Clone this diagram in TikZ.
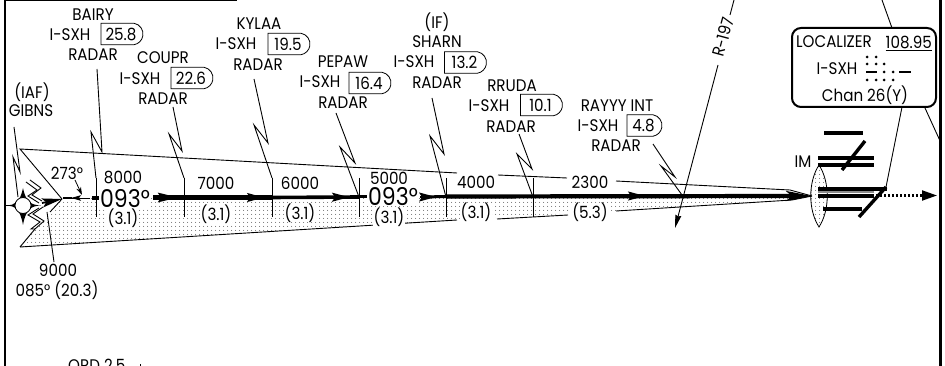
\documentclass[tikz,border=0pt]{standalone}
\usepackage{fontspec}
\setmainfont{Poppins}[FakeStretch=0.9]
\usetikzlibrary{arrows.meta,patterns.meta,shapes.misc}
\tikzset{
  txt/.style={inner sep=0pt,font=\fontsize{16.8}{18}\selectfont},
  halo/.style={txt,fill=white,inner xsep=1pt,inner ysep=0pt},
  big/.style={inner sep=0pt,font=\fontsize{24.5}{27}\selectfont},
  dmebox/.style={txt,draw,line width=.8pt,rounded rectangle,rounded rectangle left arc=none,minimum width=42pt,minimum height=21.5pt,inner sep=0pt,rounded rectangle arc length=160},
  thin line/.style={line width=.9pt},
  tickmark/.style={line width=.9pt},
  course/.style={line width=4.2pt},
  bar/.style={line width=3.4pt},
  shade/.style={pattern={Dots[radius=.55pt,distance=4pt]},pattern color=black!85}
}
\newcommand{\fixlabel}[9]{%
  \node[txt] (#1n) at (#2,#3) {#4};
  \node[txt] (#1i) at (#5,#6) {I-SXH};
  \node[dmebox] (#1b) at (#7,#8) {#9};
}
\begin{document}
\begin{tikzpicture}[x=1pt,y=-1pt]
\useasboundingbox (0,0) rectangle (945,366);
\fill[white] (0,0) rectangle (945,366);
% frame
\draw[line width=2pt] (5,366) -- (5,0) -- (237,0);
\draw[line width=2.6pt] (940.5,0) -- (940.5,366);
% shaded course wedge
\fill[shade] (62,198) -- (50,212) -- (44,221) -- (35,229) -- (20,247) -- (457,220) -- (616,211) -- (792,200) -- (810,197) -- (790,196) -- cycle;
% coordinates
\coordinate (apex) at (20,149);
\coordinate (low) at (20,247);
\coordinate (tip) at (62,199);
\coordinate (lensC) at (812,196);
\foreach \n/\x in {t1/96,t2/184,t3/272,t4/359,t5/446,t6/533}{
  \coordinate (\n a) at (\x,178);
  \coordinate (\n b) at (\x,217);
  \coordinate (\n m) at (\x,197);
}
% boundary lines
\coordinate (u1) at (457,173); \coordinate (u2) at (498,175); \coordinate (u3) at (567,178);
\coordinate (u4) at (616,181); \coordinate (u5) at (790,190);
\coordinate (l1) at (457,220); \coordinate (l2) at (497,219); \coordinate (l3) at (568,215);
\coordinate (l4) at (616,211); \coordinate (l5) at (792,200);
\draw[thin line] (tip) -- (apex) -- (u1) (u2) -- (u3) (u4) -- (u5) -- (lensC);
\draw[thin line] (lensC) -- (l5) -- (l4) (l3) -- (l2) (l1) -- (low);
\draw[thin line] (low) -- (35,229) -- (44,221) -- (33,214) -- (43,207);
\draw[thin line] (35,229) -- (31,229) -- (40,222) -- (28,215) -- (39,208);
\draw[thin line] (tip) -- (50,212);
\draw[thin line] (26,182) -- (37,190) -- (28,196) -- (39,203);
\draw[thin line] (30,180) -- (41,188) -- (32,195) -- (42,201);
% ticks
\foreach \n in {t1,t2,t3,t4,t5,t6}{\draw[tickmark] (\n a) -- (\n b);}
% course
\draw[line width=3.8pt] (92,198) -- (102,198);
\draw[course] (153,197.5) -- (272,197.5);
\draw[line width=3.6pt] (272,197.5) -- (359,197);
\draw[line width=3pt] (359,197) -- (368,197);
\draw[line width=3pt] (423,197) -- (446,196.5);
\draw[course] (446,196.5) -- (795,196);
\draw[-{Stealth[length=20pt,width=9.5pt,inset=3pt]},line width=2.4pt] (153,197.5) -- (178,197.5);
\draw[-{Stealth[length=17pt,width=9pt,inset=3pt]},line width=1.5pt] (240,197.5) -- (264,197.5);
\draw[-{Stealth[length=17pt,width=9pt,inset=3pt]},line width=1.5pt] (325,197.2) -- (349,197.2);
\draw[-{Stealth[length=17pt,width=9pt,inset=3pt]},line width=1.5pt] (420,197) -- (436,197);
\draw[-{Stealth[length=17pt,width=9pt,inset=3pt]},line width=1.5pt] (620,196) -- (645,196);
\draw[-{Stealth[length=26pt,width=10pt,inset=6pt]},line width=3.4pt] (780,196) -- (lensC);
% outbound + reverse arrows
\draw[-{Stealth[length=20pt,width=9pt,inset=4pt]},line width=1.8pt] (42,203) -- (tip);
\draw[thin line] (90,198) -- (63,198);
\draw[-{Stealth[length=10pt,width=5.5pt,inset=2pt]},line width=.9pt] (90,198) -- (71,198);
\draw[line width=2.4pt] (63,198) -- (72,198);
\node[txt] (radial) at (67,173) {273°};
\coordinate (ra) at (75,180); \coordinate (rb) at (82,195);
\draw[-{Stealth[length=8pt,width=5pt]},line width=.8pt] (ra) -- (rb);
% facility symbol
\coordinate (fix) at (23,205.5);
\draw[line width=.8pt] (5,205.5) -- (fix);
\fill (7,205.5) .. controls (14,205) and (20,203) .. (23,188) .. controls (26,203) and (32,205) .. (41,205.5)
  .. controls (32,206) and (26,208) .. (23,225) .. controls (20,208) and (14,206) .. cycle;
\node[circle,fill=white,draw,line width=.8pt,minimum size=16pt,inner sep=0pt] (fixc) at (fix) {};
% texts
\node[txt] (iaf) at (32,92) {(IAF)};
\node[txt] (gibns) at (31,111) {GIBNS};
\node[big,fill=white,inner xsep=1pt] (crsA) at (125,199) {093°};
\node[big,fill=white,inner xsep=1pt] (crsB) at (393,197) {093°};
\node[txt] (a1) at (123,178) {8000};
\node[txt] (a2) at (216,183) {7000};
\node[txt] (a3) at (300,183) {6000};
\node[txt] (a4) at (389,178) {5000};
\node[txt] (a5) at (476,182) {4000};
\node[txt] (a6) at (590,182) {2300};
\node[halo] (d1) at (123,218) {(3.1)};
\node[halo] (d2) at (216,214) {(3.1)};
\node[halo] (d3) at (300,213) {(3.1)};
\node[halo] (d4) at (389,217) {(3.1)};
\node[halo] (d5) at (476,212) {(3.1)};
\node[halo] (d6) at (590,212) {(5.3)};
\node[txt] (alt) at (58,270) {9000};
\node[txt] (hdg) at (57,290) {085° (20.3)};
\coordinate (pp) at (54,262); \coordinate (pq) at (47,212);
\draw[thin line] (pp) -- (pq);
% fix labels
\fixlabel{ba}{93}{15}{BAIRY}{70}{35}{121}{34}{25.8}
\node[txt] (bar) at (93,55) {RADAR};
\fixlabel{co}{163}{58}{COUPR}{140}{79}{191}{78}{22.6}
\node[txt] (cor) at (163,99) {RADAR};
\fixlabel{ky}{259}{24}{KYLAA}{236}{44}{288}{44}{19.5}
\node[txt] (kyr) at (258,65) {RADAR};
\fixlabel{pe}{343}{62}{PEPAW}{320}{82}{369}{83}{16.4}
\node[txt] (per) at (343,103) {RADAR};
\node[txt] (ifl) at (437,22) {(IF)};
\fixlabel{sh}{437}{42}{SHARN}{414}{62}{464.5}{62.5}{13.2}
\node[txt] (shr) at (437,83) {RADAR};
\fixlabel{rr}{512}{86}{RRUDA}{489}{106}{540.5}{105}{10.1}
\node[txt] (rrr) at (511,127) {RADAR};
\node[txt] (ran) at (617,106) {RAYYY INT};
\node[txt] (rai) at (598,126) {I-SXH};
\node[dmebox,minimum width=35pt] (rab) at (643.5,125.5) {4.8};
\node[txt] (rar) at (616,146) {RADAR};
% lightning pointers
\foreach \a/\b/\c/\d in {
  {97,69}/{102,152}/{91,132}/{t1a},
  {173,107}/{182,151}/{169,134}/{t2a},
  {254,79}/{268,143}/{254,125}/{t3a},
  {336,113}/{355,163}/{340,147}/{t4m},
  {432,98}/{444,154}/{430,136}/{t5m},
  {519,134}/{532,169}/{517,154}/{t6m}}{
  \draw[thin line] (\a) -- (\b) -- (\c) -- (\d);
}
\coordinate (raTip) at (682,195);
\draw[thin line] (653,144) -- (675,177) -- (661,166) -- (raTip);
\coordinate (giTip) at (18,197);
\draw[thin line] (14,127) -- (20,172) -- (13,157) -- (giTip);
% radial R-197
\coordinate (rtop) at (734,0); \coordinate (rbreak) at (730,15);
\coordinate (rlow) at (718,65); \coordinate (rtip) at (675,228);
\draw[thin line] (rtop) -- (rbreak);
\draw[-{Stealth[length=13pt,width=6pt,inset=1pt]},line width=.9pt] (rlow) -- (rtip);
\node[txt,rotate=75] (r197) at (723,37) {R-197};
% lens
\draw[shade,draw=black,line width=.8pt] (819,165) .. controls (808,182) and (808,210) .. (819,227) .. controls (830,210) and (830,182) .. (819,165) -- cycle;
\node[txt] (im) at (803,162) {IM};
% markers
\draw[bar] (824,133) -- (863,133);
\draw[bar] (865,141) -- (842,170);
\draw[bar] (818,158) -- (874,158);
\draw[bar] (818,165) -- (874,165);
\draw[bar] (818,189) -- (887,189);
\draw[line width=2pt,black!45] (818,192) -- (874,192);
\draw[bar] (818,196) -- (874,196);
\draw[bar] (823,209) -- (862,209);
\draw[bar] (886,187) -- (859,217);
\draw[line width=3.6pt,dash pattern=on 2.4pt off 1.6pt] (876,195.5) -- (922,195.5);
\draw[-{Stealth[length=15pt,width=10pt,inset=0pt]},line width=2pt] (920,195.5) -- (937,195.5);
% outside lines and localizer box
\node[draw,line width=2pt,rounded corners=9pt,minimum width=144pt,minimum height=79pt,inner sep=0pt,fill=white] (loc) at (864,67.5) {};
\coordinate (lt) at (882,0); \coordinate (ltb) at (892,28);
\coordinate (ltc) at (925,108); \coordinate (ltd) at (941,143);
\draw[thin line] (lt) -- (ltb) (ltc) -- (ltd);
\coordinate (mk) at (886,187); \coordinate (lb) at (902,107);
\draw[thin line] (lb) -- (mk);
\node[txt,anchor=west] (locn) at (796,42) {LOCALIZER};
\node[txt,anchor=east] (locf) at (932,42) {108.95};
\draw[line width=.9pt] (locf.south west |- 0,50.5) -- (locf.south east |- 0,50.5);
\node[txt] (loci) at (837,69) {I-SXH};
\node[txt] (locc) at (865,95) {Chan 26(Y)};
\foreach \x/\y in {867/57,876/57,867/64,876/64,884/64,884/72,893/72,867/80,876/80,884/80,893/80}{
  \fill (\x,\y) circle (1.5pt);
}
\draw[line width=2.4pt] (866,72) -- (877,72) (899,72) -- (911,72);
% clipped bottom text
\node[txt,anchor=west] (ord) at (68,365) {ORD 2.5};
\coordinate (oa) at (140,364); \coordinate (ob) at (140,366);
\draw[thin line] (oa) -- (ob);
\end{tikzpicture}
\end{document}
